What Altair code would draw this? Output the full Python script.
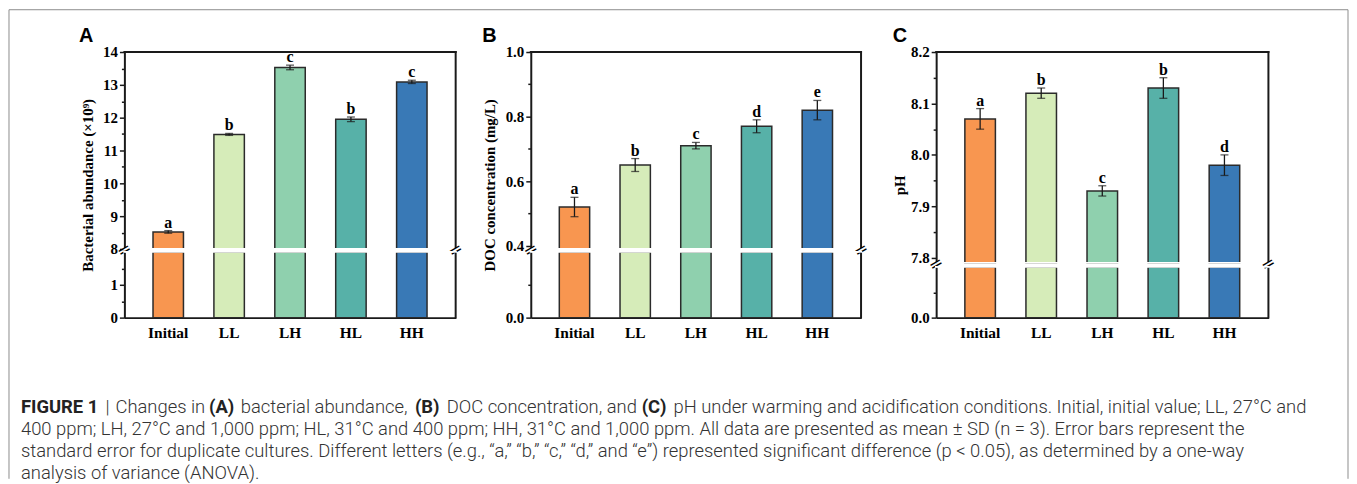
import json
import altair as alt
import pandas as pd

# ---------------- data ----------------
groups = ["Initial", "LL", "LH", "HL", "HH"]
bar_colors = ["#F89650", "#D6ECB9", "#8FD0AE", "#57B1A8", "#3979B6"]

abundance = [8.52, 11.49, 13.53, 11.95, 13.09]
abundance_err = [0.04, 0.03, 0.07, 0.07, 0.05]
abundance_letters = ["a", "b", "c", "b", "c"]

doc = [0.52, 0.65, 0.71, 0.77, 0.82]
doc_err = [0.03, 0.02, 0.01, 0.02, 0.03]
doc_letters = ["a", "b", "c", "d", "e"]

ph = [8.07, 8.12, 7.93, 8.13, 7.98]
ph_err = [0.02, 0.01, 0.01, 0.02, 0.02]
ph_letters = ["a", "b", "c", "b", "d"]

# axis tick values (upper / lower part of the broken axes)
a_up_ticks = [8, 8.5, 9, 9.5, 10, 10.5, 11, 11.5, 12, 12.5, 13, 13.5, 14]
a_up_major = [8, 9, 10, 11, 12, 13, 14]
a_lo_ticks = [0, 0.5, 1, 1.5]
a_lo_major = [0, 1]

b_up_ticks = [0.4, 0.5, 0.6, 0.7, 0.8, 0.9, 1.0]
b_up_major = [0.4, 0.6, 0.8, 1.0]
b_lo_ticks = [0, 0.1]
b_lo_major = [0]

c_up_ticks = [7.8, 7.85, 7.9, 7.95, 8.0, 8.05, 8.1, 8.15, 8.2]
c_up_major = [7.8, 7.9, 8.0, 8.1, 8.2]
c_lo_ticks = [0, 0.1]
c_lo_major = [0]

caption_line1 = [
    ("FIGURE 1", "bold"), ("|", "normal"), ("Changes in", "normal"), ("(A)", "bold"),
    ("bacterial abundance,", "normal"), ("(B)", "bold"), ("DOC concentration, and", "normal"),
    ("(C)", "bold"),
    ("pH under warming and acidification conditions. Initial, initial value; LL, 27°C and", "normal"),
]
caption_line1_x = [20, 105, 115, 209, 241, 416, 448, 644, 676]
caption_lines = [
    "400 ppm; LH, 27°C and 1,000 ppm; HL, 31°C and 400 ppm; HH, 31°C and 1,000 ppm. All data are presented as mean ± SD (n = 3). Error bars represent the",
    "standard error for duplicate cultures. Different letters (e.g., “a,” “b,” “c,” “d,” and “e”) represented significant difference (p < 0.05), as determined by a one-way",
    "analysis of variance (ANOVA).",
]
caption_page_y = [408, 430, 452, 474]

SERIF = "Liberation Serif"
INK = "#1a1a1a"
GAP = 3        # spacing between upper and lower parts
H_UP = 198     # view height of upper parts
H_LO = 66      # view height of lower parts
PANEL_H = H_UP + GAP + H_LO


def major_test(major):
    return f"indexof({json.dumps(major)}, datum.value) >= 0"


def y_axis(ticks, major, fmt, title=None, title_x=0, title_y=0):
    kw = dict(
        values=ticks, tickCount=100, format=fmt,
        labelExpr=f"{major_test(major)} ? datum.label : ''",
        tickSize={"condition": {"test": major_test(major), "value": 5}, "value": 3},
        tickColor=INK, tickWidth=1.5, domainColor=INK, domainWidth=2, grid=False,
        labelFont=SERIF, labelFontSize=15, labelFontWeight="bold", labelColor="black",
        labelPadding=2, labelOverlap=False,
    )
    if title:
        kw.update(title=title, titleX=title_x, titleY=title_y, titleAngle=270,
                  titleAlign="center", titleBaseline="middle", titleFont=SERIF,
                  titleFontSize=15, titleFontWeight="bold", titleColor="black")
    else:
        kw.update(title=None)
    return alt.Axis(**kw)


def panel(vals, errs, letters, title, plabel, up_dom, lo_dom, up_ticks, up_major,
          lo_ticks, lo_major, fmt, w, up_h, lo_top, title_x, letter_x):
    df = pd.DataFrame({"group": groups, "value": vals, "err": errs, "letter": letters})
    base = alt.Chart(df).transform_calculate(
        lo="datum.value - datum.err", hi="datum.value + datum.err")
    xscale = alt.Scale(domain=groups, paddingInner=0.5, paddingOuter=0.47)
    color = alt.Color("group:N", scale=alt.Scale(domain=groups, range=bar_colors), legend=None)
    ysc_up = alt.Scale(domain=up_dom, range=[up_h, 0], nice=False, zero=False, clamp=True)
    ysc_lo = alt.Scale(domain=lo_dom, range=[H_LO, lo_top], nice=False, zero=False, clamp=True)
    x_up = alt.X("group:N", sort=groups, scale=xscale, axis=None)

    bars_up = base.mark_bar(stroke="#2b2b2b", strokeWidth=1.5).encode(
        x=x_up,
        y=alt.Y("value:Q", scale=ysc_up,
                axis=y_axis(up_ticks, up_major, fmt, title, title_x, PANEL_H / 2)),
        y2=alt.datum(0), color=color)
    err_rule = base.mark_rule(color=INK, strokeWidth=1.3).encode(
        x=x_up, y=alt.Y("lo:Q", scale=ysc_up), y2="hi:Q")
    cap_lo = base.mark_tick(color=INK, thickness=1.3, size=8).encode(
        x=x_up, y=alt.Y("lo:Q", scale=ysc_up))
    cap_hi = base.mark_tick(color=INK, thickness=1.3, size=8).encode(
        x=x_up, y=alt.Y("hi:Q", scale=ysc_up))
    lets = base.mark_text(font=SERIF, fontSize=16, fontWeight="bold", color="black",
                          baseline="alphabetic", dy=-3).encode(
        x=x_up, y=alt.Y("hi:Q", scale=ysc_up), text="letter:N")

    deco = alt.Chart(pd.DataFrame({"k": [0]}))
    cover_up = deco.mark_rect(color="white").encode(
        x=alt.value(-1.2), x2=alt.value(w + 1.2), y=alt.value(up_h - 0.9), y2=alt.value(up_h + 0.9))
    top_line = deco.mark_rule(color=INK, strokeWidth=2, strokeCap="square").encode(
        x=alt.value(0), x2=alt.value(w), y=alt.value(0))
    right_up = deco.mark_rule(color=INK, strokeWidth=2).encode(
        x=alt.value(w), y=alt.value(-1), y2=alt.value(up_h - 0.9))
    brk_l = deco.mark_text(text="=", angle=330, fontSize=17, font="DejaVu Sans",
                           color="black").encode(x=alt.value(0), y=alt.value(up_h + GAP / 2))
    brk_r = deco.mark_text(text="=", angle=330, fontSize=17, font="DejaVu Sans",
                           color="black").encode(x=alt.value(w), y=alt.value(up_h + GAP / 2))
    plab = deco.mark_text(text=plabel, font="Liberation Sans", fontSize=20, fontWeight="bold",
                          color="black", align="center", baseline="middle").encode(
        x=alt.value(letter_x), y=alt.value(-16))

    upper = alt.layer(bars_up, err_rule, cap_lo, cap_hi, lets, cover_up, top_line, right_up,
                      brk_l, brk_r, plab).properties(width=w, height=H_UP)

    x_lo = alt.X("group:N", sort=groups, scale=xscale,
                 axis=alt.Axis(title=None, labelAngle=0, ticks=False, labelPadding=8,
                               labelFont=SERIF, labelFontSize=15.5, labelFontWeight="bold",
                               labelColor="black", domainColor=INK, domainWidth=2))
    bars_lo = base.mark_bar(stroke="#2b2b2b", strokeWidth=1.5).encode(
        x=x_lo,
        y=alt.Y("value:Q", scale=ysc_lo, axis=y_axis(lo_ticks, lo_major, fmt)),
        y2=alt.datum(0), color=color)
    cover_lo = deco.mark_rect(color="white").encode(
        x=alt.value(-1.2), x2=alt.value(w + 1.2), y=alt.value(lo_top - 0.9), y2=alt.value(lo_top + 0.9))
    right_lo = deco.mark_rule(color=INK, strokeWidth=2).encode(
        x=alt.value(w), y=alt.value(lo_top + 0.9), y2=alt.value(H_LO + 1))
    lower = alt.layer(bars_lo, cover_lo, right_lo).properties(width=w, height=H_LO)

    return upper, lower


A_up, A_lo = panel(abundance, abundance_err, abundance_letters, "Bacterial abundance (×10⁹)", "A",
                   [8, 14], [0, 2], a_up_ticks, a_up_major, a_lo_ticks, a_lo_major, ".0f",
                   333, 198, 0, -37, -38.5)
B_up, B_lo = panel(doc, doc_err, doc_letters, "DOC concentration (mg/L)", "B",
                   [0.39, 1.0], [0, 0.2], b_up_ticks, b_up_major, b_lo_ticks, b_lo_major, ".1f",
                   332, 198, 0, -41, -41.5)
C_up, C_lo = panel(ph, ph_err, ph_letters, "pH", "C",
                   [7.79, 8.2], [0, 0.2], c_up_ticks, c_up_major, c_lo_ticks, c_lo_major, ".1f",
                   334, 212, 15, -37, -36.5)

# ---------------- caption ----------------
OX, OY = 124, 51 + PANEL_H + GAP  # page position of caption view origin
cap_font = "Roboto"
cap_color = "#333333"
CAP_FS = 18.5
seg_df = pd.DataFrame({
    "text": [s for s, _ in caption_line1],
    "weight": [wt for _, wt in caption_line1],
    "x": [x - OX for x in caption_line1_x],
    "y": [caption_page_y[0] - OY] * len(caption_line1),
})
line_df = pd.DataFrame({
    "text": caption_lines,
    "x": [20 - OX] * len(caption_lines),
    "y": [y - OY for y in caption_page_y[1:]],
})
cap_bold = alt.Chart(seg_df).transform_filter(alt.datum.weight == "bold").mark_text(
    font=cap_font, fontSize=CAP_FS, fontWeight="bold", color="#222222", align="left",
    baseline="middle").encode(x=alt.X("x:Q", scale=None), y=alt.Y("y:Q", scale=None),
                              text="text:N")
cap_norm = alt.Chart(seg_df).transform_filter(alt.datum.weight == "normal").mark_text(
    font=cap_font, fontSize=CAP_FS, fontWeight=300, color=cap_color, align="left",
    baseline="middle").encode(x=alt.X("x:Q", scale=None), y=alt.Y("y:Q", scale=None),
                              text="text:N")
cap_lines = alt.Chart(line_df).mark_text(
    font=cap_font, fontSize=CAP_FS, fontWeight=300, color=cap_color, align="left",
    baseline="middle").encode(x=alt.X("x:Q", scale=None), y=alt.Y("y:Q", scale=None),
                              text="text:N")

CAP_H = 480 - OY
deco = alt.Chart(pd.DataFrame({"k": [0]}))
bx0, bx1, by0 = 8 - OX, 1354 - OX, 8.5 - OY
border_l = deco.mark_rule(color="#8c8c8c", strokeWidth=1).encode(
    x=alt.value(bx0), y=alt.value(by0), y2=alt.value(CAP_H))
border_r = deco.mark_rule(color="#8c8c8c", strokeWidth=1).encode(
    x=alt.value(bx1), y=alt.value(by0), y2=alt.value(CAP_H))
border_t = deco.mark_rule(color="#8c8c8c", strokeWidth=1).encode(
    x=alt.value(bx0), x2=alt.value(bx1), y=alt.value(by0))

caption = alt.layer(cap_bold, cap_norm, cap_lines, border_l, border_r, border_t).properties(
    width=333, height=CAP_H)

chart = alt.concat(A_up, B_up, C_up, A_lo, B_lo, C_lo, caption, columns=3,
                   spacing={"row": GAP, "column": 75.5}, align="none",
                   bounds="flush").properties(padding=0).configure_view(strokeWidth=0)

chart.save("out.html", embed_options={"renderer": "svg", "actions": False})
